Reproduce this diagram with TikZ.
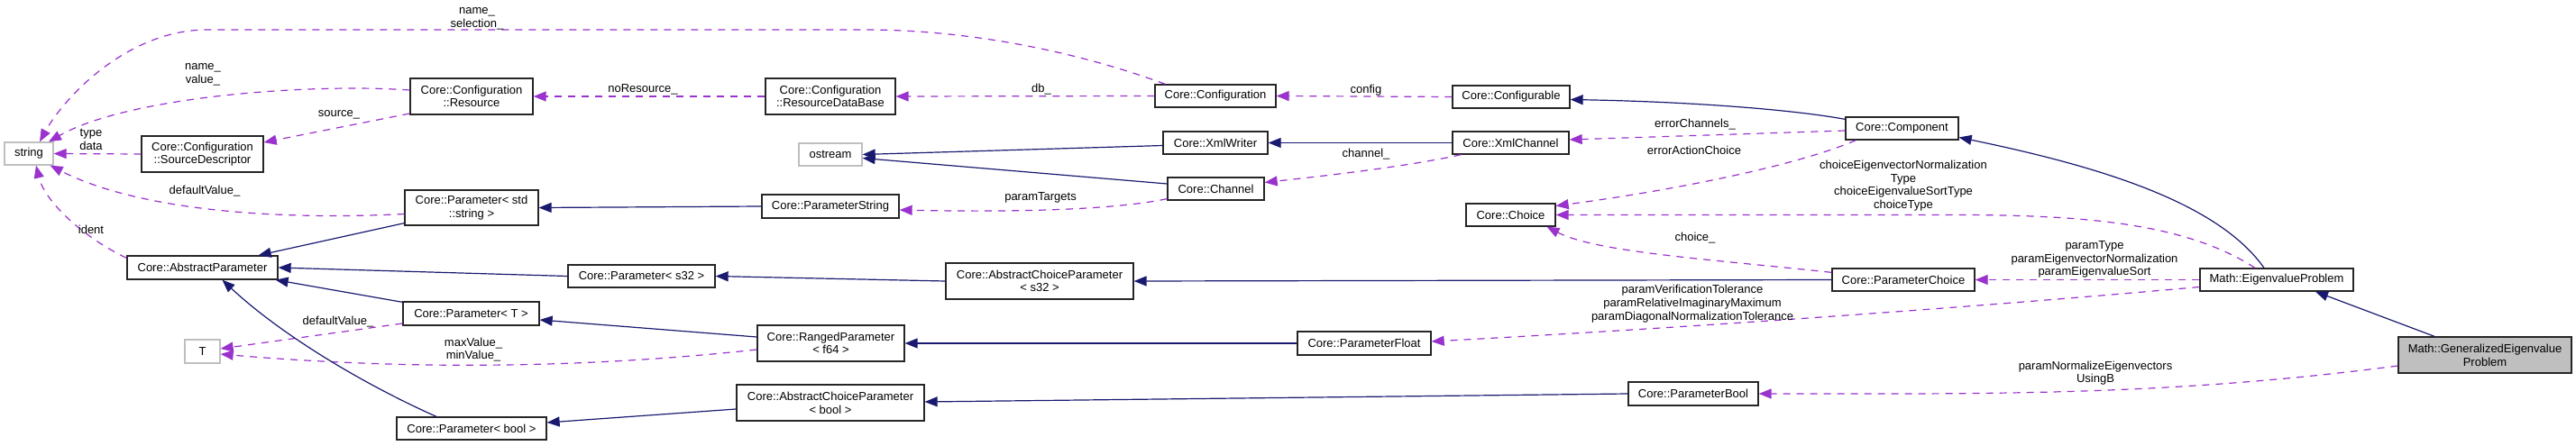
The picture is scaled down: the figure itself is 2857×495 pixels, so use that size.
\documentclass[tikz,border=0pt]{standalone}
\usepackage{fontspec}
\setmainfont{Liberation Sans}
\usetikzlibrary{arrows.meta}
\definecolor{inh}{HTML}{191970}
\definecolor{use}{HTML}{9A32CD}
\definecolor{grayfill}{HTML}{BFBFBF}
\begin{document}
\begin{tikzpicture}[x=1pt,y=-1pt,
  font=\fontsize{13}{14.7}\selectfont,
  cls/.style={draw=black!85, line width=1.3pt, inner sep=0pt, align=center, fill=white},
  ext/.style={draw=grayfill, line width=1.3pt, inner sep=0pt, align=center, fill=white},
  inhedge/.style={draw=inh, line width=1.2pt, -{Triangle[length=14pt,width=11pt]}},
  useedge/.style={draw=use, line width=1.2pt, dash pattern=on 8pt off 7pt, -{Triangle[length=14pt,width=11pt]}},
  lbl/.style={inner sep=0pt, align=center}]
\useasboundingbox (0,0) rectangle (2857,495);
% nodes
\node[ext, minimum width=54pt, minimum height=25pt] (string) at (32,170.5) {string};
\node[cls, minimum width=136pt, minimum height=40pt] (res) at (523,107) {Core::Configuration\\::Resource};
\node[cls, minimum width=135pt, minimum height=40pt] (srcdesc) at (224.5,171) {Core::Configuration\\::SourceDescriptor};
\node[cls, minimum width=148pt, minimum height=39pt] (pstd) at (523,230.5) {Core::Parameter< std\\::string >};
\node[cls, minimum width=167pt, minimum height=26pt] (absparam) at (224.5,297) {Core::AbstractParameter};
\node[cls, minimum width=151pt, minimum height=26pt] (paramT) at (522.5,348) {Core::Parameter< T >};
\node[ext, minimum width=39pt, minimum height=26pt] (T) at (224.5,390) {T};
\node[cls, minimum width=166pt, minimum height=25pt] (parbool) at (523,475.5) {Core::Parameter< bool >};
\node[cls, minimum width=163pt, minimum height=25pt] (ps32) at (711.5,306.5) {Core::Parameter< s32 >};
\node[cls, minimum width=144pt, minimum height=40pt] (rdb) at (921,107) {Core::Configuration\\::ResourceDataBase};
\node[ext, minimum width=70pt, minimum height=25pt] (ostream) at (921,171.5) {ostream};
\node[cls, minimum width=152pt, minimum height=26pt] (pstring) at (921,229) {Core::ParameterString};
\node[cls, minimum width=208pt, minimum height=40pt] (acps32) at (1153,312) {Core::AbstractChoiceParameter\\< s32 >};
\node[cls, minimum width=163pt, minimum height=40pt] (ranged) at (921.5,381) {Core::RangedParameter\\< f64 >};
\node[cls, minimum width=208pt, minimum height=40pt] (acpbool) at (921,447) {Core::AbstractChoiceParameter\\< bool >};
\node[cls, minimum width=134pt, minimum height=25pt] (cfg) at (1348,106.5) {Core::Configuration};
\node[cls, minimum width=116pt, minimum height=25pt] (xmlw) at (1348,158.5) {Core::XmlWriter};
\node[cls, minimum width=107pt, minimum height=25pt] (channel) at (1348.5,209.5) {Core::Channel};
\node[cls, minimum width=148pt, minimum height=26pt] (pfloat) at (1513,381) {Core::ParameterFloat};
\node[cls, minimum width=130pt, minimum height=25pt] (cfgable) at (1676,107.5) {Core::Configurable};
\node[cls, minimum width=129pt, minimum height=25pt] (xmlch) at (1675.5,158.5) {Core::XmlChannel};
\node[cls, minimum width=99pt, minimum height=25pt] (choice) at (1675.5,238.5) {Core::Choice};
\node[cls, minimum width=144pt, minimum height=26pt] (pbool) at (1878,437) {Core::ParameterBool};
\node[cls, minimum width=125pt, minimum height=25pt] (comp) at (2109.5,142.5) {Core::Component};
\node[cls, minimum width=158pt, minimum height=25pt] (pchoice) at (2111,310.5) {Core::ParameterChoice};
\node[cls, minimum width=170pt, minimum height=25pt] (eig) at (2525,310.5) {Math::EigenvalueProblem};
\node[cls, fill=grayfill, minimum width=192pt, minimum height=40pt] (geneig) at (2756,394) {Math::GeneralizedEigenvalue\\Problem};
% usage edges
\draw[useedge] ([xshift=12pt]cfg.north west) .. controls (1180,52) and (1060,33) .. (960,33) -- (230,33) .. controls (140,33) and (70,110) .. ([xshift=12pt]string.north);
\draw[useedge] ([yshift=7pt]res.west) .. controls (340,92) and (140,108) .. ([xshift=22pt]string.north);
\draw[useedge] ([yshift=-19pt]res.west) -- ([yshift=13pt]srcdesc.east);
\draw[useedge] (srcdesc.west) -- (string.east);
\draw[useedge] ([yshift=-7pt]pstd.west) .. controls (300,245) and (150,232) .. ([xshift=-4pt]string.south east);
\draw[useedge] ([yshift=-3pt]absparam.north west) .. controls (95,265) and (50,225) .. ([xshift=8pt]string.south);
\draw[useedge] (rdb.west) -- (res.east);
\draw[useedge] (cfg.west) -- (rdb.east);
\draw[useedge] (cfgable.west) -- (cfg.east);
\draw[useedge] ([yshift=-2.5pt]comp.west) -- ([yshift=3.5pt]xmlch.east);
\draw[useedge] ([xshift=10pt]xmlch.south west) .. controls (1560,185) and (1470,195) .. ([yshift=7pt]channel.east);
\draw[useedge] ([yshift=2pt]channel.south west) .. controls (1240,232) and (1140,236) .. ([yshift=-4pt]pstring.east);
\draw[useedge] ([xshift=12pt]comp.south west) .. controls (1990,185) and (1850,212) .. ([yshift=10pt]choice.east);
\draw[useedge] ([xshift=-24pt]eig.north) .. controls (2420,245) and (2300,238) .. (2150,238.5) -- (choice.east);
\draw[useedge] ([yshift=-5pt]pchoice.north west) .. controls (1900,288) and (1770,280) .. ([xshift=40pt]choice.south);
\draw[useedge] (eig.west) -- (pchoice.east);
\draw[useedge] ([yshift=-8pt]eig.west) .. controls (2200,340) and (1900,362) .. ([yshift=2pt]pfloat.east);
\draw[useedge] ([yshift=-11pt]paramT.west) -- ([yshift=3pt]T.east);
\draw[useedge] ([yshift=-7pt]ranged.west) .. controls (620,412) and (420,408) .. ([yshift=-3pt]T.east);
\draw[useedge] ([yshift=-12pt]geneig.west) .. controls (2400,440) and (2200,437) .. (pbool.east);
% inheritance edges
\draw[inhedge] ([yshift=-3pt]comp.north west) .. controls (1990,122) and (1880,113) .. ([yshift=-3pt]cfgable.east);
\draw[inhedge] (xmlch.west) -- (xmlw.east);
\draw[inhedge] ([yshift=-3pt]xmlw.west) -- (ostream.east);
\draw[inhedge] ([yshift=5.5pt]channel.west) -- ([yshift=-4pt]ostream.east);
\draw[inhedge] (pstring.west) -- (pstd.east);
\draw[inhedge] ([yshift=3pt]pstd.south west) -- ([xshift=-22pt]absparam.north east);
\draw[inhedge] (acps32.west) -- (ps32.east);
\draw[inhedge] (ps32.west) -- (absparam.east);
\draw[inhedge] (pchoice.west) -- (acps32.east);
\draw[inhedge] (pfloat.west) -- (ranged.east);
\draw[inhedge] ([yshift=7pt]ranged.west) -- ([yshift=-7pt]paramT.east);
\draw[inhedge] ([yshift=-1pt]paramT.north west) -- ([xshift=-3pt]absparam.south east);
\draw[inhedge] ([xshift=-56pt]geneig.north) -- ([xshift=43pt]eig.south);
\draw[inhedge] ([xshift=-14pt]eig.north) .. controls (2460,225) and (2330,185) .. ([yshift=-10pt]comp.east);
\draw[inhedge] (pbool.west) -- ([yshift=1pt]acpbool.east);
\draw[inhedge] ([yshift=-7pt]acpbool.west) -- ([yshift=6.5pt]parbool.east);
\draw[inhedge] ([xshift=-39pt]parbool.north) .. controls (400,425) and (310,370) .. ([xshift=22pt]absparam.south);
% labels
\node[lbl] (l1) at (529,21) {name\_\\selection\_};
\node[lbl] (l2) at (225,83) {name\_\\value\_};
\node[lbl] (l3) at (376,127) {source\_};
\node[lbl] (l4) at (101,155) {type\\data};
\node[lbl] (l5) at (227,212) {defaultValue\_};
\node[lbl] (l6) at (101,255) {ident};
\node[lbl] (l7) at (375,357) {defaultValue\_};
\node[lbl] (l8) at (525,388) {maxValue\_\\minValue\_};
\node[lbl] (l9) at (713,99) {noResource\_};
\node[lbl] (l10) at (1155,99) {db\_};
\node[lbl] (l11) at (1515,100) {config};
\node[lbl] (l12) at (1515,171) {channel\_};
\node[lbl] (l13) at (1154,219) {paramTargets};
\node[lbl] (l14) at (1880,138) {errorChannels\_};
\node[lbl] (l15) at (1879,167) {errorActionChoice};
\node[lbl] (l16) at (2111,206) {choiceEigenvectorNormalization\\Type\\choiceEigenvalueSortType\\choiceType};
\node[lbl] (l17) at (1880,264) {choice\_};
\node[lbl] (l18) at (1877,337) {paramVerificationTolerance\\paramRelativeImaginaryMaximum\\paramDiagonalNormalizationTolerance};
\node[lbl] (l19) at (2323,288) {paramType\\paramEigenvectorNormalization\\paramEigenvalueSort};
\node[lbl] (l20) at (2324,414) {paramNormalizeEigenvectors\\UsingB};
\end{tikzpicture}
\end{document}
